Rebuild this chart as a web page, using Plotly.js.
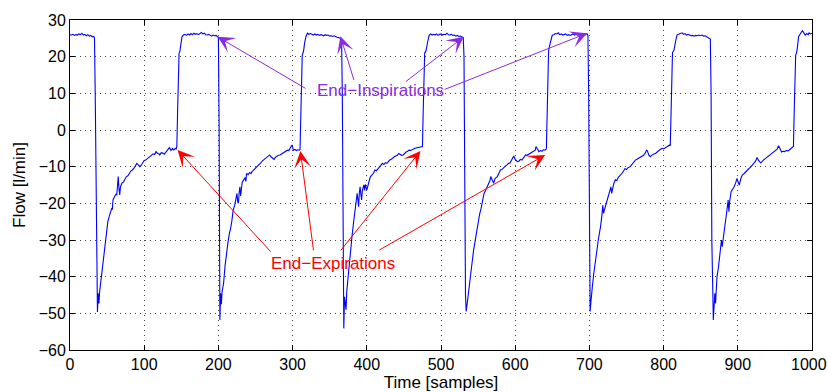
<!DOCTYPE html>
<html>
<head>
<meta charset="utf-8">
<script src="https://cdn.plot.ly/plotly-3.0.1.min.js"></script>
<style>html,body{margin:0;padding:0;background:#fff;}#chart{width:828px;height:392px;}</style>
</head>
<body>
<div id="chart"></div>
<script>
// Flow waveform, one array per breath: [sample, flow l/min]
const breath1 = [[0,26.0],[2,25.9],[4,26.1],[6,25.8],[8,26.0],[10,25.9],[12,26.2],[14,26.0],[16,26.4],[18,25.9],[20,26.1],[22,25.7],[24,26.0],[26,25.6],[28,25.8],[30,25.4],[32,25.5],[33,25.0],[34,10],[35,-20],[36,-45],[37,-49.6],[38,-44.5],[39,-47.3],[40,-44],[42,-40.5],[43,-39],[45,-36],[47,-32],[49,-28],[51,-25],[53,-23.5],[55,-22],[56,-21.5],[57,-21.6],[58,-19],[60,-18.2],[62,-17.5],[63,-17.8],[64,-15],[65,-12.7],[66,-16],[67,-17.7],[68,-15.5],[69,-14.8],[70,-14.5],[72,-14.2],[74,-13.3],[76,-12.7],[78,-12.5],[80,-11.8],[82,-11.2],[84,-10.9],[86,-10.5],[88,-9.8],[90,-9.1],[92,-9.5],[94,-10.0],[96,-9.6],[98,-8.8],[100,-8.3],[102,-8.2],[104,-7.9],[106,-7.6],[108,-7.2],[110,-6.8],[112,-6.5],[114,-6.7],[116,-5.9],[118,-6.4],[120,-6.5],[121,-6.8],[123,-6.2],[125,-6.3],[127,-6.6],[129,-6.1],[131,-5.6],[133,-5.3],[134,-4.8],[136,-5.6],[138,-5.0],[140,-5.5],[142,-5.0],[143,-5.2],[144,-4.5]];
const breath2 = [[145,5],[146,20.5],[147,20.9],[148,21.4],[149,22.5],[150,24.5],[151,25.5],[153,25.9],[155,26.1],[157,25.8],[159,26.2],[161,25.9],[163,26.3],[165,26.0],[167,26.4],[169,26.1],[171,26.3],[173,26.0],[175,26.4],[177,26.6],[179,26.2],[181,26.4],[183,26.0],[185,25.9],[187,26.1],[189,25.8],[191,25.6],[193,25.9],[195,25.7],[197,25.8],[199,25.5],[200,25.2],[201,0],[202,-51.8],[203,-44.5],[204,-47.5],[205,-44],[207,-41.8],[209,-37],[211,-32.7],[213,-30.5],[215,-28],[216,-27.3],[218,-25],[220,-21.8],[222,-20.5],[224,-18.5],[225,-17.3],[226,-19.5],[227,-20],[228,-17],[229,-15.5],[230,-18],[231,-15.5],[232,-14.3],[234,-13.6],[236,-13],[237,-14],[238,-11.8],[240,-12.2],[242,-11.6],[244,-11.9],[245,-11.4],[247,-11],[249,-10.6],[251,-10.2],[253,-10],[255,-9.5],[257,-9.0],[259,-8.5],[261,-8.2],[263,-7.9],[265,-7.6],[267,-7.2],[269,-6.8],[271,-7.3],[273,-7.8],[275,-8.0],[277,-7.4],[279,-7.1],[281,-6.9],[283,-6.8],[285,-6.5],[287,-6.2],[289,-6.0],[291,-5.8],[293,-5.5],[295,-5.6],[297,-5.0],[299,-4.1],[300,-4.6],[301,-5.5],[303,-5.3],[305,-5.6],[307,-5.4],[309,-5.5],[310,-5.3]];
const breath3 = [[311,5],[312,20],[313,20.5],[314,21],[315,21.8],[316,23.5],[318,25.5],[320,26.4],[322,26.1],[324,26.3],[326,26.2],[328,25.9],[330,26.2],[332,25.9],[334,26.1],[336,25.8],[338,26.0],[340,25.9],[342,25.7],[344,26.0],[346,25.8],[348,25.9],[350,25.6],[352,25.7],[354,25.5],[356,25.7],[358,25.4],[360,25.3],[362,25.2],[364,25.0],[366,24.8],[367,10],[368,-40],[369,-54.1],[370,-45.5],[371,-48.2],[372,-49],[373,-44],[375,-39.1],[377,-35],[379,-31],[380,-29.1],[382,-25.5],[384,-22],[385,-21.8],[386,-19],[387,-17.3],[388,-19],[389,-20.9],[390,-17],[391,-15.5],[392,-17.5],[393,-19.1],[394,-16.5],[395,-15.8],[396,-15],[397,-16.5],[398,-14.8],[400,-16.4],[402,-14.5],[404,-13.3],[405,-12.7],[407,-12.3],[409,-11.8],[411,-10.9],[413,-11.1],[415,-10.6],[417,-10],[419,-9.6],[421,-9.1],[423,-9.4],[425,-8.9],[427,-9.1],[429,-8.5],[431,-8.2],[433,-8.0],[435,-7.6],[437,-7.3],[439,-7.1],[441,-6.9],[443,-6.4],[445,-6.6],[447,-6.9],[449,-6.8],[451,-6.3],[453,-6.0],[455,-5.8],[457,-5.5],[459,-5.6],[461,-5.3],[463,-5.2],[465,-5.0],[467,-4.9],[469,-4.8],[471,-4.7],[473,-4.6],[475,-4.5]];
const breath4 = [[476,5],[477,20.9],[478,21.0],[479,21.3],[480,21.8],[482,24],[484,25.8],[486,26.2],[488,25.9],[490,26.1],[492,25.9],[494,26.2],[496,25.8],[498,26.1],[500,26.2],[502,25.9],[504,26.1],[506,26.0],[508,26.4],[510,26.0],[512,25.9],[514,26.1],[516,25.8],[518,25.9],[520,25.6],[522,25.8],[524,25.5],[526,25.6],[528,25.3],[530,25.2],[531,20],[532,-20],[533,-45],[534,-49.5],[535,-48],[536,-46],[537,-44.5],[539,-40.5],[540,-39.1],[542,-36],[544,-32.7],[546,-30],[548,-27.3],[550,-25],[552,-23],[554,-21.4],[556,-19.5],[558,-17.3],[560,-16.5],[562,-15.5],[564,-15.0],[566,-13.8],[567,-12.7],[569,-13.5],[571,-14.5],[573,-13.2],[576,-12.7],[578,-11.8],[580,-10.9],[582,-10.8],[585,-10.0],[587,-9.8],[589,-9.5],[591,-9.1],[593,-9.0],[595,-8.2],[597,-7.6],[598,-7.1],[600,-8.0],[602,-8.4],[603,-8.6],[605,-8.5],[607,-8.0],[609,-8.2],[611,-7.5],[613,-7.0],[614,-6.8],[616,-6.9],[618,-6.6],[621,-6.4],[623,-6.0],[625,-5.7],[627,-5.5],[628,-4.5],[630,-5.2],[632,-5.9],[634,-5.6],[636,-5.8],[638,-5.4],[640,-5.5],[642,-5.2]];
const breath5 = [[643,5],[644,20.9],[645,21.5],[646,22.7],[648,24.5],[650,25.9],[652,26.0],[654,26.3],[656,26.2],[658,26.5],[660,26.0],[662,26.2],[664,25.9],[666,26.1],[668,26.2],[670,25.8],[672,26.0],[674,25.8],[676,26.1],[678,26.2],[680,25.9],[682,26.1],[684,25.9],[686,26.2],[688,25.9],[690,26.0],[692,26.1],[694,25.9],[696,26.3],[697,26.2],[698,25.8],[699,10],[700,-30],[701,-49.5],[702,-47],[703,-44],[704,-42.7],[706,-39],[707,-37.3],[709,-34.5],[710,-32.7],[712,-30],[714,-27.5],[715,-26.4],[717,-23],[718,-20.5],[719,-22.7],[720,-22],[722,-20],[724,-18.7],[726,-17.5],[728,-15.9],[729,-15.5],[730,-17.3],[731,-16],[733,-14.5],[735,-13.6],[737,-13.8],[739,-12.9],[742,-12.3],[744,-11.8],[746,-11.2],[748,-10.5],[750,-10.8],[752,-10.3],[755,-10],[757,-9.4],[759,-8.9],[762,-8.2],[764,-8.0],[766,-7.8],[768,-7.5],[771,-7.3],[773,-6.9],[775,-6.4],[777,-5.5],[778,-5.6],[780,-6.8],[782,-7.3],[784,-6.9],[786,-6.6],[789,-6.4],[791,-6.0],[793,-5.8],[795,-5.4],[798,-5.0],[800,-5.1],[802,-4.9],[804,-4.6],[806,-4.4],[808,-4.1],[809,-4.3]];
const breath6 = [[810,5],[811,20.9],[812,21.2],[813,21.4],[814,21.8],[816,24],[818,25.9],[820,26.1],[822,26.3],[825,26.5],[827,26.1],[829,26.3],[831,25.9],[833,26.1],[835,25.9],[837,25.7],[839,25.8],[841,25.6],[843,25.8],[845,25.7],[847,25.9],[849,25.7],[852,25.9],[854,25.6],[856,25.7],[858,25.4],[860,25.3],[862,25.0],[863,24.8],[864,10],[865,-30],[867,-51.8],[868,-45],[869,-44.5],[870,-47.3],[871,-43],[872,-40],[874,-37.3],[876,-34],[878,-30],[879,-31.8],[881,-28],[883,-25.5],[885,-22.5],[887,-19.1],[888,-22.3],[889,-19.5],[891,-16.8],[893,-16.2],[895,-15.5],[897,-14.5],[899,-13.2],[900,-14],[902,-15],[904,-13.3],[906,-12.3],[908,-12.0],[910,-11.5],[913,-10.9],[915,-10.5],[917,-10.2],[920,-9.5],[922,-9.1],[924,-8.5],[926,-7.5],[928,-8.3],[931,-9.0],[933,-8.4],[935,-8.1],[937,-7.8],[940,-7.3],[942,-7.0],[944,-6.8],[946,-6.5],[949,-5.9],[951,-5.6],[953,-5.2],[955,-4.3],[957,-5.4],[959,-6.0],[961,-5.8],[963,-5.9],[965,-5.6],[967,-5.7],[969,-5.5],[971,-5.1],[973,-4.8],[975,-4.5]];
const breath7 = [[976,5],[977,20],[978,20.5],[979,20.9],[980,22],[982,25.5],[984,26.2],[987,27.1],[989,26.5],[991,25.9],[993,26.3],[995,26.0],[996,26.5],[998,26.2],[1000,26.4]];

// Tick values
const xTicks = [0,100,200,300,400,500,600,700,800,900,1000];
const yTicks = [-60,-50,-40,-30,-20,-10,0,10,20,30];

// Annotated events: end of inspiration / end of expiration [sample, flow]
const endInspirations = [[199,25.4],[364.4,25.6],[530.7,25.4],[697,26.4]];
const endExpirations = [[145,-5.45],[310.5,-5.7],[472.3,-5.7],[640.4,-6.8]];
const inspLabel = 'End\u2212Inspirations';
const expLabel = 'End\u2212Expirations';

const allPts = [].concat(breath1, breath2, breath3, breath4, breath5, breath6, breath7);
const xs = allPts.map(p => p[0]);
const ys = allPts.map(p => p[1]);

const FONT = 'Liberation Sans, Arial, Helvetica, sans-serif';
const PURPLE = '#8a2be2';
const RED = '#ff0000';

// arrow tails (data coords) for each label
const inspTails = [[319.5,11.1],[383.3,13.2],[450.7,12.9],[502.9,10.9]];
const expTails = [[272.3,-33.6],[328.4,-33.2],[363.5,-33.2],[414.7,-33.0]];

const annotations = [];
endInspirations.forEach((p, i) => {
  annotations.push({x: p[0], y: p[1], xref: 'x', yref: 'y', ax: inspTails[i][0], ay: inspTails[i][1], axref: 'x', ayref: 'y',
    text: '', showarrow: true, arrowhead: 3, arrowsize: 2.8, arrowwidth: 1, arrowcolor: PURPLE, standoff: 0, startstandoff: 0});
});
endExpirations.forEach((p, i) => {
  annotations.push({x: p[0], y: p[1], xref: 'x', yref: 'y', ax: expTails[i][0], ay: expTails[i][1], axref: 'x', ayref: 'y',
    text: '', showarrow: true, arrowhead: 3, arrowsize: 2.8, arrowwidth: 1, arrowcolor: RED, standoff: 0, startstandoff: 0});
});
annotations.push({x: 418.4, y: 10.9, xref: 'x', yref: 'y', text: inspLabel, showarrow: false, font: {family: FONT, size: 17, color: PURPLE}});
annotations.push({x: 354.7, y: -36.4, xref: 'x', yref: 'y', text: expLabel, showarrow: false, font: {family: FONT, size: 17, color: RED}});

// last x tick label kept inside the page edge (right-aligned at the corner tick)
const lastX = xTicks[xTicks.length - 1];
annotations.push({x: lastX, y: yTicks[0], xref: 'x', yref: 'y', text: String(lastX), showarrow: false,
  xanchor: 'right', yanchor: 'middle', xshift: 16, yshift: -14, borderpad: 0,
  font: {family: FONT, size: 16, color: '#000'}});

const trace = {x: xs, y: ys, type: 'scatter', mode: 'lines', line: {color: '#0000ff', width: 1.1}, hoverinfo: 'skip'};

const axisCommon = {
  showline: true, linecolor: '#000', linewidth: 1, mirror: 'ticks',
  ticks: 'inside', ticklen: 5, tickcolor: '#000', tickwidth: 1,
  showgrid: true, gridcolor: '#444', griddash: '1px,4px', gridwidth: 1,
  zeroline: false, tickfont: {family: FONT, size: 16, color: '#000'}
};

const layout = {
  width: 828, height: 392,
  margin: {l: 70, r: 16, t: 20, b: 42, pad: 0},
  paper_bgcolor: '#fff', plot_bgcolor: '#fff',
  showlegend: false,
  font: {family: FONT, color: '#000'},
  xaxis: Object.assign({}, axisCommon, {range: [0, 1000], autorange: false, tickmode: 'array', tickvals: xTicks,
    ticktext: xTicks.map(v => v === lastX ? '' : String(v)),
    title: {text: 'Time [samples]', font: {family: FONT, size: 17, color: '#000'}, standoff: 5}}),
  yaxis: Object.assign({}, axisCommon, {range: [-60, 30], autorange: false, tickmode: 'array', tickvals: yTicks, ticktext: yTicks.map(v => v < 0 ? '\u2212' + Math.abs(v) : String(v)),
    title: {text: 'Flow [l/min]', font: {family: FONT, size: 17, color: '#000'}, standoff: 8}}),
  annotations: annotations
};

Plotly.newPlot('chart', [trace], layout, {displayModeBar: false, staticPlot: true});
</script>
</body>
</html>
